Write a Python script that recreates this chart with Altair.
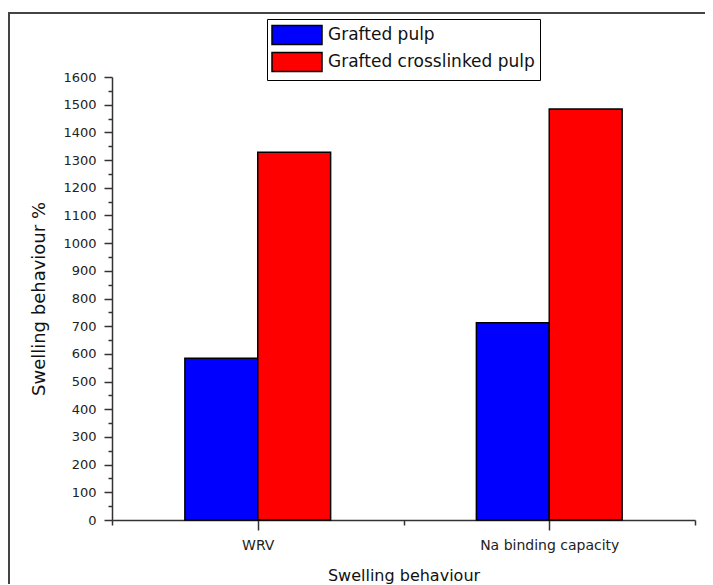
import altair as alt
import pandas as pd

categories = ["WRV", "Na binding capacity"]
series = ["Grafted pulp", "Grafted crosslinked pulp"]
grafted_pulp = [584, 712]
grafted_crosslinked_pulp = [1328, 1484]
colors = ["#0000ff", "#ff0000"]
y_ticks = list(range(0, 1601, 50))

rows = []
for ci, cat in enumerate(categories):
    rows.append({"category": cat, "series": series[0], "value": grafted_pulp[ci]})
    rows.append({"category": cat, "series": series[1], "value": grafted_crosslinked_pulp[ci]})
df = pd.DataFrame(rows)

cat_js = "[" + ",".join("'" + c + "'" for c in categories) + "]"
ser_js = "[" + ",".join("'" + s + "'" for s in series) + "]"
n = len(categories)
x_label_expr = " : ".join(
    f"datum.value == {2 * i + 1} ? '{c}'" for i, c in enumerate(categories)
) + " : ''"

FONT = "DejaVu Sans"

bars = (
    alt.Chart(df)
    .transform_calculate(
        ci=f"indexof({cat_js}, datum.category)",
        si=f"indexof({ser_js}, datum.series)",
    )
    .transform_calculate(
        x0="2 * datum.ci + 0.5 + 0.5 * datum.si",
    )
    .transform_calculate(x1="datum.x0 + 0.5")
    .mark_bar(stroke="black", strokeWidth=1.5)
    .encode(
        x=alt.X(
            "x0:Q",
            scale=alt.Scale(domain=[0, 2 * n], nice=False, zero=False),
            axis=alt.Axis(
                values=list(range(0, 2 * n + 1)),
                labelExpr=x_label_expr,
                title="Swelling behaviour",
                grid=False,
                domainColor="#333333",
                domainWidth=1.5,
                tickColor="#333333",
                tickWidth=1.5,
                tickSize={"condition": {"test": "datum.value % 2 == 1", "value": 10}, "value": 5},
                labelFont=FONT,
                labelFontSize=14,
                labelColor="#222222",
                labelPadding=8,
                labelFlush=False,
                titleFont=FONT,
                titleFontSize=16,
                titleFontWeight="normal",
                titleColor="#111111",
                titlePadding=15,
            ),
        ),
        x2="x1:Q",
        y=alt.Y(
            "value:Q",
            scale=alt.Scale(domain=[0, 1600], nice=False),
            axis=alt.Axis(
                values=y_ticks,
                format="d",
                labelExpr="datum.value % 100 == 0 ? datum.label : ''",
                title="Swelling behaviour %",
                grid=False,
                domainColor="#333333",
                domainWidth=1.5,
                tickColor="#333333",
                tickWidth=1.5,
                tickSize={"condition": {"test": "datum.value % 100 == 0", "value": 8}, "value": 4},
                labelFont=FONT,
                labelFontSize=13,
                labelColor="#222222",
                labelPadding=8,
                titleFont=FONT,
                titleFontSize=18,
                titleFontWeight="normal",
                titleColor="#111111",
                titlePadding=14,
            ),
        ),
        y2=alt.datum(0),
        color=alt.Color(
            "series:N",
            scale=alt.Scale(domain=series, range=colors),
            legend=alt.Legend(
                title=None,
                orient="none",
                legendX=155,
                legendY=-58,
                fillColor="white",
                strokeColor="black",
                padding=5,
                symbolType="M-2.5,-0.95H2.5V0.95H-2.5Z",
                symbolSize=400,
                symbolOffset=14,
                symbolStrokeColor="black",
                symbolStrokeWidth=1.5,
                symbolOpacity=1,
                labelFont=FONT,
                labelFontSize=17,
                labelColor="#111111",
                labelOffset=20,
                rowPadding=1,
                labelLimit=400,
            ),
        ),
    )
)

frame = (
    alt.Chart(pd.DataFrame({"a": [0]}))
    .mark_rect(filled=False, stroke="#444444", strokeWidth=2)
    .encode(
        x=alt.value(-103),
        x2=alt.value(700),
        y=alt.value(-64),
        y2=alt.value(600),
    )
)

chart = (
    alt.layer(frame, bars)
    .properties(
        width=583,
        height=443,
        padding={"left": 104, "top": 69, "right": 10, "bottom": 64},
        autosize=alt.AutoSizeParams(type="none"),
        background="white",
    )
    .configure_view(stroke=None)
)

chart.save("out.html", embed_options={"renderer": "svg", "actions": False})
